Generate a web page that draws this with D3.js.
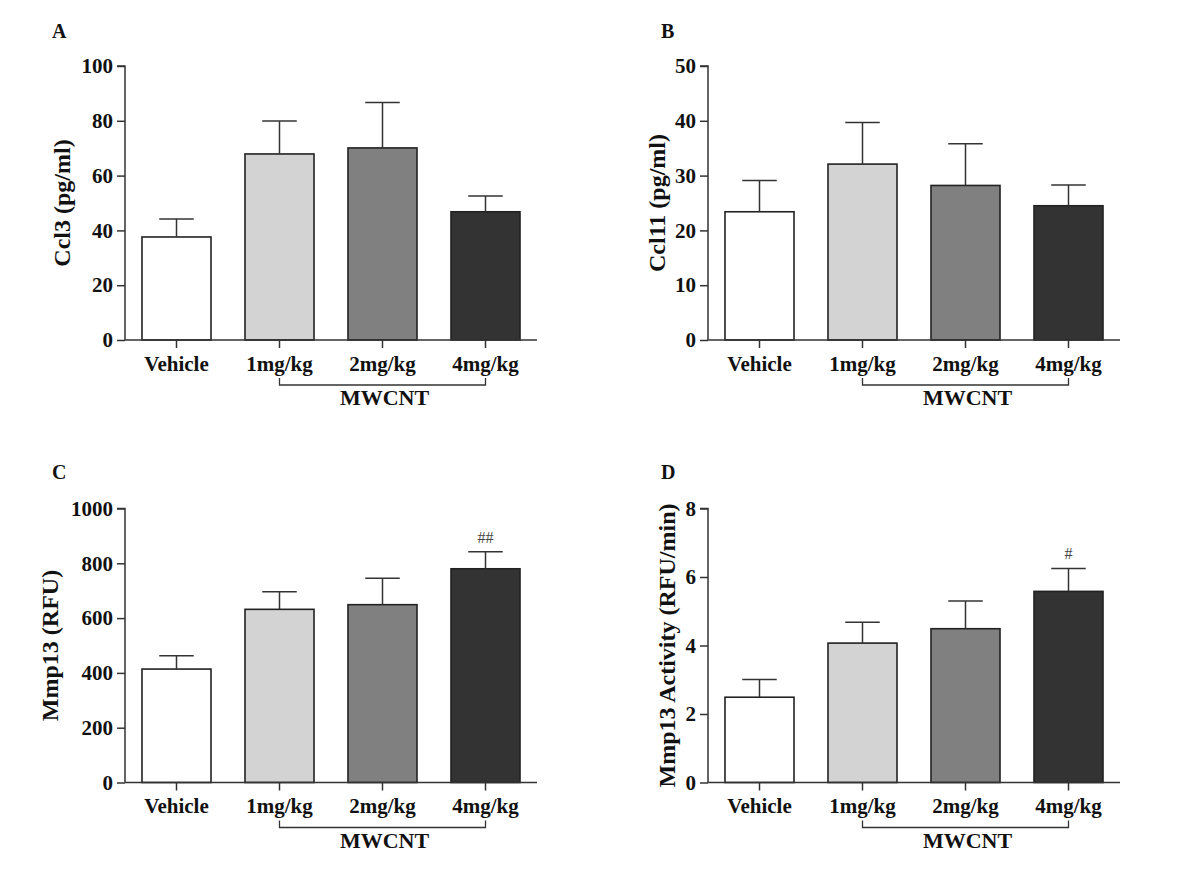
<!DOCTYPE html>
<html>
<head>
<meta charset="utf-8">
<script src="https://cdn.jsdelivr.net/npm/d3@7"></script>
<style>
  html, body { margin: 0; padding: 0; background: #fff; }
  svg { display: block; }
  text { font-family: "Liberation Serif", "Times New Roman", serif; }
</style>
</head>
<body>
<svg id="chart" width="1200" height="890"></svg>
<script>
// ---- data ----
const categories = ["Vehicle", "1mg/kg", "2mg/kg", "4mg/kg"];
const barColors = ["#ffffff", "#d3d3d3", "#808080", "#333333"];

const ccl3Mean = [37.6, 67.9, 70.1, 46.8];
const ccl3Err  = [44.2, 79.9, 86.7, 52.6];
const ccl3Ticks = [0, 20, 40, 60, 80, 100];

const ccl11Mean = [23.4, 32.1, 28.2, 24.5];
const ccl11Err  = [29.1, 39.7, 35.8, 28.3];
const ccl11Ticks = [0, 10, 20, 30, 40, 50];

const mmp13Mean = [414, 632, 649, 780];
const mmp13Err  = [463, 696, 745, 842];
const mmp13Ticks = [0, 200, 400, 600, 800, 1000];
const mmp13Marks = ["", "", "", "##"];

const mmp13ActMean = [2.49, 4.07, 4.49, 5.58];
const mmp13ActErr  = [3.01, 4.68, 5.30, 6.25];
const mmp13ActTicks = [0, 2, 4, 6, 8];
const mmp13ActMarks = ["", "", "", "#"];

const panelLetters = ["A", "B", "C", "D"];
const yTitles = ["Ccl3 (pg/ml)", "Ccl11 (pg/ml)", "Mmp13 (RFU)", "Mmp13 Activity (RFU/min)"];
const groupLabel = "MWCNT";

// ---- layout ----
const svg = d3.select("#chart");
const panels = [
  { letter: panelLetters[0], title: yTitles[0], mean: ccl3Mean, err: ccl3Err, ticks: ccl3Ticks, marks: null,
    x0: 125, top: 66, bottom: 340, titleX: 62, letterX: 52, letterY: 38 },
  { letter: panelLetters[1], title: yTitles[1], mean: ccl11Mean, err: ccl11Err, ticks: ccl11Ticks, marks: null,
    x0: 708, top: 66, bottom: 340, titleX: 657, letterX: 661, letterY: 38 },
  { letter: panelLetters[2], title: yTitles[2], mean: mmp13Mean, err: mmp13Err, ticks: mmp13Ticks, marks: mmp13Marks,
    x0: 125, top: 508.5, bottom: 782.5, titleX: 50, letterX: 52, letterY: 479 },
  { letter: panelLetters[3], title: yTitles[3], mean: mmp13ActMean, err: mmp13ActErr, ticks: mmp13ActTicks, marks: mmp13ActMarks,
    x0: 708, top: 508.5, bottom: 782.5, titleX: 667, letterX: 661, letterY: 479 }
];
const plotW = 412;
const axisColor = "#333";

panels.forEach(p => {
  const g = svg.append("g");
  const x = d3.scaleBand().domain(categories).range([p.x0, p.x0 + plotW]).paddingInner(0.33).paddingOuter(0.165);
  const yMax = p.ticks[p.ticks.length - 1];
  const y = d3.scaleLinear().domain([0, yMax]).range([p.bottom, p.top]);
  const bw = x.bandwidth();

  // bars
  g.selectAll("rect.bar").data(categories).enter().append("rect")
    .attr("x", d => x(d))
    .attr("y", (d, i) => y(p.mean[i]))
    .attr("width", bw)
    .attr("height", (d, i) => y(0) - y(p.mean[i]))
    .attr("fill", (d, i) => barColors[i])
    .attr("stroke", "#222")
    .attr("stroke-width", 1.6);

  // error bars
  const eg = g.selectAll("g.err").data(categories).enter().append("g");
  eg.append("line")
    .attr("x1", d => x(d) + bw / 2).attr("x2", d => x(d) + bw / 2)
    .attr("y1", (d, i) => y(p.mean[i])).attr("y2", (d, i) => y(p.err[i]))
    .attr("stroke", axisColor).attr("stroke-width", 1.5);
  eg.append("line")
    .attr("x1", d => x(d) + bw / 4).attr("x2", d => x(d) + bw * 3 / 4)
    .attr("y1", (d, i) => y(p.err[i])).attr("y2", (d, i) => y(p.err[i]))
    .attr("stroke", axisColor).attr("stroke-width", 1.5);

  // significance marks
  if (p.marks) {
    g.selectAll("text.mark").data(categories).enter().append("text")
      .attr("x", d => x(d) + bw / 2)
      .attr("y", (d, i) => y(p.err[i]) - 9)
      .attr("text-anchor", "middle")
      .attr("font-size", 16)
      .attr("fill", "#444")
      .text((d, i) => p.marks[i]);
  }

  // y axis
  const yAxis = d3.axisLeft(y).tickValues(p.ticks).tickSize(8).tickPadding(4).tickFormat(d3.format("d"));
  const ya = g.append("g").attr("transform", `translate(${p.x0},0)`).call(yAxis);
  ya.select(".domain").attr("stroke", axisColor).attr("stroke-width", 1.5).attr("d", `M-8,${y(yMax)}H0V${y(0)}`);
  ya.selectAll(".tick line").attr("stroke", axisColor).attr("stroke-width", 1.5);
  ya.selectAll(".tick text").attr("font-family", "Liberation Serif, serif").attr("font-size", 21)
    .attr("font-weight", "bold").attr("fill", "#111");

  // x axis
  const xAxis = d3.axisBottom(x).tickSize(8).tickPadding(8);
  const xa = g.append("g").attr("transform", `translate(0,${p.bottom})`).call(xAxis);
  xa.select(".domain").attr("stroke", axisColor).attr("stroke-width", 1.5).attr("d", `M${p.x0},0H${p.x0 + plotW}`);
  xa.selectAll(".tick line").attr("stroke", axisColor).attr("stroke-width", 1.5);
  xa.selectAll(".tick text").attr("font-family", "Liberation Serif, serif").attr("font-size", 21)
    .attr("font-weight", "bold").attr("fill", "#111");

  // MWCNT bracket
  const bx1 = x(categories[1]) + bw / 2, bx2 = x(categories[3]) + bw / 2;
  const by = p.bottom + 45;
  g.append("path")
    .attr("d", `M${bx1},${by - 7}V${by}H${bx2}V${by - 7}`)
    .attr("fill", "none").attr("stroke", axisColor).attr("stroke-width", 1.3);
  g.append("text")
    .attr("x", (bx1 + bx2) / 2 + 2).attr("y", p.bottom + 65)
    .attr("text-anchor", "middle").attr("font-size", 22).attr("font-weight", "bold").attr("fill", "#111")
    .text(groupLabel);

  // y title
  g.append("text")
    .attr("transform", `translate(${p.titleX},${(p.top + p.bottom) / 2}) rotate(-90)`)
    .attr("text-anchor", "middle").attr("dominant-baseline", "central")
    .attr("font-size", 24).attr("font-weight", "bold").attr("fill", "#111")
    .text(p.title);

  // panel letter
  g.append("text")
    .attr("x", p.letterX).attr("y", p.letterY)
    .attr("font-size", 20).attr("font-weight", "bold").attr("fill", "#111")
    .text(p.letter);
});
</script>
</body>
</html>
